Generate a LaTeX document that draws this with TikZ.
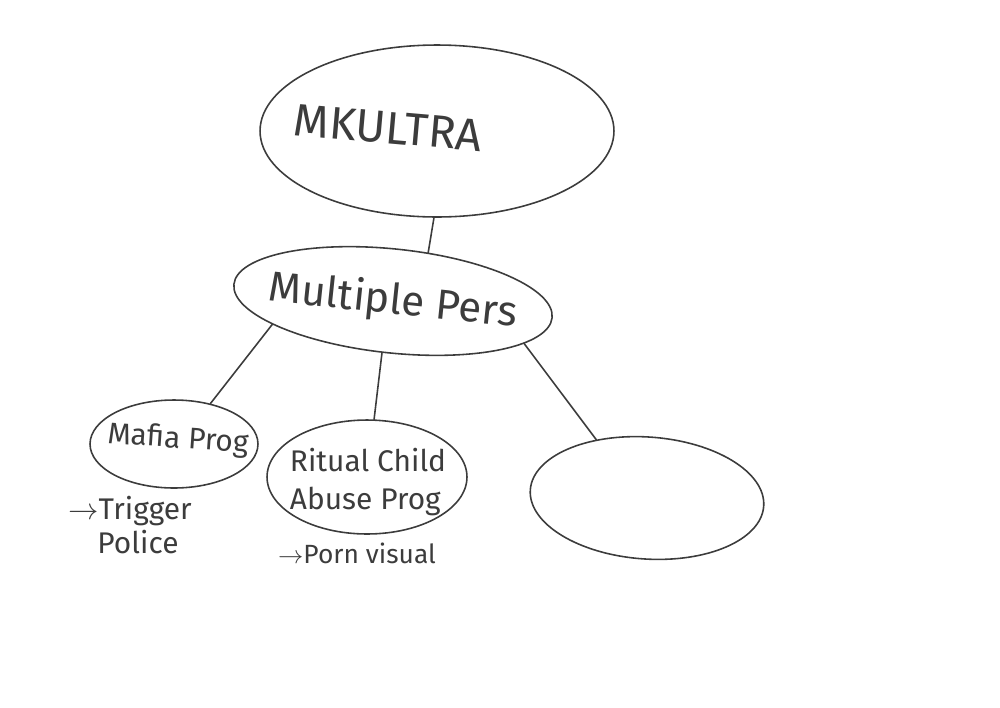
\documentclass[tikz,border=0pt]{standalone}
\usepackage{fontspec}
\setmainfont{Fira Sans}
\usepackage{tikz}
\usetikzlibrary{shapes.geometric}

\definecolor{ink}{HTML}{3C3C3C}

\begin{document}
\begin{tikzpicture}[x=0.02cm, y=-0.02cm,
        blob/.style={draw=ink, line width=0.9pt, ellipse, inner sep=0pt},
        link/.style={draw=ink, line width=0.9pt, line cap=round},
        hand/.style={text=ink, inner sep=0pt}]
        \useasboundingbox (0, 0) rectangle (1000, 707);

        % ellipses
        \node[blob, minimum width=7.08cm, minimum height=3.44cm] (mk) at (437, 131) {};
        \node[blob, minimum width=6.40cm, minimum height=2.08cm, rotate=-6] (mp) at (393, 301) {};
        \node[blob, minimum width=3.36cm, minimum height=1.76cm] (mafia) at (174, 444) {};
        \node[blob, minimum width=4.00cm, minimum height=2.28cm] (ritual) at (367, 477) {};
        \node[blob, minimum width=4.68cm, minimum height=2.44cm, rotate=-4] (empty) at (647, 498) {};

        % texts
        \node[hand, rotate=-5, font=\fontsize{26}{30}\selectfont] (mktext) at (388, 128) {MKULTRA};
        \node[hand, rotate=-6, font=\fontsize{24}{30}\selectfont] (mptext) at (393, 302) {Multiple Pers};
        \node[hand, rotate=-4, font=\fontsize{17}{20}\selectfont] (mafiatext) at (178, 440) {Mafia Prog};
        \node[hand, align=left, font=\fontsize{17}{22}\selectfont] (ritualtext) at (368, 482) {Ritual Child\\Abuse Prog};

        % notes below
        \node[hand, font=\fontsize{17}{20}\selectfont] (trigger) at (130, 511) {$\rightarrow$Trigger};
        \node[hand, font=\fontsize{17}{20}\selectfont] (police) at (138, 542) {Police};
        \node[hand, font=\fontsize{15}{18}\selectfont] (porn) at (357, 553) {$\rightarrow$Porn visual};

        % connectors
        \draw[link] (mk.268) -- (mp.60);
        \draw[link] (mp.197) -- (mafia.48);
        \draw[link] (mp.264) -- (ritual.83);
        \draw[link] (mp.-12) -- (empty.135);
\end{tikzpicture}
\end{document}
